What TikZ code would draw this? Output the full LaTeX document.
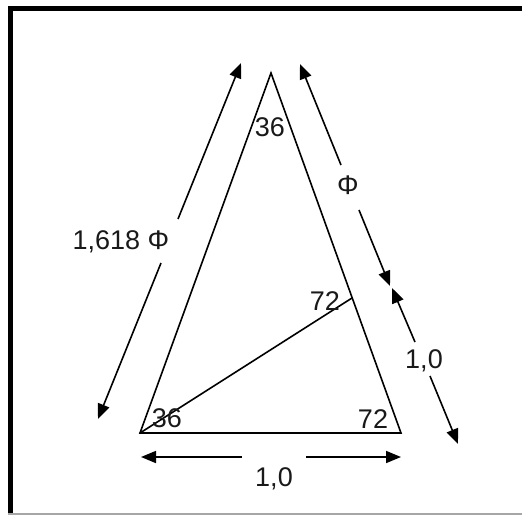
\documentclass[tikz,border=0pt]{standalone}
\usepackage{fontspec}
\setmainfont{Liberation Sans}
\usetikzlibrary{arrows.meta}
\begin{document}
\begin{tikzpicture}[x=1pt,y=-1pt,
  edge/.style={line width=1.6pt,black,line join=miter},
  dim/.style={line width=1.6pt,black,-{Triangle[length=15pt,width=12pt]}},
  lab/.style={font=\fontsize{27}{30}\selectfont,inner sep=0pt,text=black!90}]
\useasboundingbox (0,0) rectangle (522,515);
\fill[white] (0,0) rectangle (522,515);
% frame
\draw[line width=5pt,black] (8,8.5) -- (522,8.5);
\draw[line width=5pt,black] (10.5,6) -- (10.5,515);
\draw[line width=1.2pt,black!35] (8,514) -- (522,514);
% triangle
\coordinate (A) at (271,73);
\coordinate (B) at (140,433);
\coordinate (C) at (401,433);
\coordinate (D) at (352,298);
\draw[edge] (A) -- (B) -- (C) -- cycle;
\draw[edge] (B) -- (D);
% angle labels
\node[lab] (a36t) at (270,127) {36};
\node[lab] (a72m) at (325,301) {72};
\node[lab] (a36b) at (167,418) {36};
\node[lab] (a72b) at (373,419) {72};
% left dimension 1,618 Phi
\coordinate (LT) at (241,63);
\coordinate (LB) at (98,419);
\coordinate (L1) at (178,219);
\coordinate (L2) at (161,263);
\node[lab] (l1618) at (121,242) {1,618 Φ};
\draw[dim] (L1) -- (LT);
\draw[dim] (L2) -- (LB);
% right dimension Phi
\coordinate (RT) at (300,64);
\coordinate (RB) at (390,286);
\coordinate (R1) at (341,165);
\coordinate (R2) at (359,210);
\node[lab] (lphi) at (348,185) {Φ};
\draw[dim] (R1) -- (RT);
\draw[dim] (R2) -- (RB);
% right dimension 1,0
\coordinate (ST) at (392,288);
\coordinate (SB) at (458,444);
\coordinate (S1) at (415,342);
\coordinate (S2) at (430,376);
\node[lab] (l10r) at (424,361) {1,0};
\draw[dim] (S1) -- (ST);
\draw[dim] (S2) -- (SB);
% bottom dimension 1,0
\coordinate (BL) at (141,457);
\coordinate (BR) at (401,457);
\coordinate (B1) at (242,457);
\coordinate (B2) at (306,457);
\node[lab] (l10b) at (274,479) {1,0};
\draw[dim] (B1) -- (BL);
\draw[dim] (B2) -- (BR);
\end{tikzpicture}
\end{document}
